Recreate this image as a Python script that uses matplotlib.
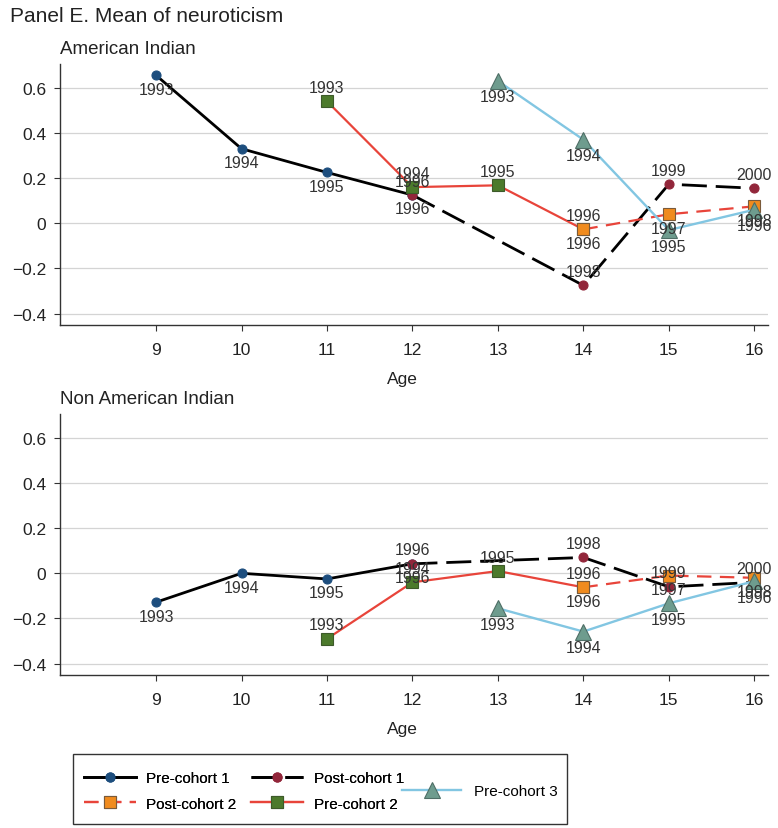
import matplotlib
matplotlib.use("Agg")
import matplotlib.pyplot as plt
from matplotlib.patches import Rectangle

plt.rcParams["font.family"] = ["Liberation Sans", "DejaVu Sans"]

# ---- data: (ages, values, survey years) per series, per panel ----
ai_pre1_age = [9, 10, 11, 12]
ai_pre1_val = [0.655, 0.33, 0.225, 0.125]
ai_pre1_yr = ["1993", "1994", "1995", "1996"]
ai_post1_age = [12, 14, 15, 16]
ai_post1_val = [0.125, -0.275, 0.173, 0.155]
ai_post1_yr = ["1996", "1998", "1999", "2000"]
ai_pre2_age = [11, 12, 13, 14]
ai_pre2_val = [0.54, 0.16, 0.168, -0.027]
ai_pre2_yr = ["1993", "1994", "1995", "1996"]
ai_post2_age = [14, 15, 16]
ai_post2_val = [-0.027, 0.04, 0.075]
ai_post2_yr = ["1996", "1997", "1998"]
ai_pre3_age = [13, 14, 15, 16]
ai_pre3_val = [0.63, 0.37, -0.03, 0.06]
ai_pre3_yr = ["1993", "1994", "1995", "1996"]

nai_pre1_age = [9, 10, 11, 12]
nai_pre1_val = [-0.128, 0.0, -0.025, 0.042]
nai_pre1_yr = ["1993", "1994", "1995", "1996"]
nai_post1_age = [12, 14, 15, 16]
nai_post1_val = [0.042, 0.07, -0.06, -0.04]
nai_post1_yr = ["1996", "1998", "1999", "2000"]
nai_pre2_age = [11, 12, 13, 14]
nai_pre2_val = [-0.29, -0.04, 0.01, -0.062]
nai_pre2_yr = ["1993", "1994", "1995", "1996"]
nai_post2_age = [14, 15, 16]
nai_post2_val = [-0.062, -0.01, -0.02]
nai_post2_yr = ["1996", "1997", "1998"]
nai_pre3_age = [13, 14, 15, 16]
nai_pre3_val = [-0.155, -0.258, -0.133, -0.035]
nai_pre3_yr = ["1993", "1994", "1995", "1996"]

x_ticks = [9, 10, 11, 12, 13, 14, 15, 16]
y_ticks = [-0.4, -0.2, 0, 0.2, 0.4, 0.6]
y_ticklabels = ["\u22120.4", "\u22120.2", "0", "0.2", "0.4", "0.6"]

# series styles; "off" = year label offset in points (+ above, - below)
STYLES = {
    "pre1": dict(label="Pre-cohort 1", color="black", lw=2.0, ls="-", marker="o",
                 ms=6.5, mfc="#1d4e7e", mec="#1d4e7e", off=-10),
    "post1": dict(label="Post-cohort 1", color="black", lw=2.0, ls=(0, (9, 3.2)), marker="o",
                  ms=6.5, mfc="#92263a", mec="#92263a", off=10),
    "pre2": dict(label="Pre-cohort 2", color="#e8443a", lw=1.6, ls="-", marker="s",
                 ms=9, mfc="#4c7a2c", mec="#3d5a2a", off=10),
    "post2": dict(label="Post-cohort 2", color="#e8443a", lw=1.6, ls=(0, (6.5, 3.8)), marker="s",
                  ms=9, mfc="#f08b1e", mec="#7a5a3a", off=-10),
    "pre3": dict(label="Pre-cohort 3", color="#82c6e2", lw=1.7, ls="-", marker="^",
                 ms=11, mfc="#6e9c8e", mec="#4e6e66", off=-11.5),
}


def draw_panel(ax, series, subtitle):
    handles = {}
    for key, (ages, vals, yrs) in series:
        s = STYLES[key]
        h, = ax.plot(ages, vals, color=s["color"], lw=s["lw"], ls=s["ls"], marker=s["marker"],
                     ms=s["ms"], mfc=s["mfc"], mec=s["mec"], mew=0.8, label=s["label"],
                     clip_on=False)
        handles[key] = h
        for a, v, y in zip(ages, vals, yrs):
            ax.annotate(y, (a, v), xytext=(0, s["off"]), textcoords="offset points",
                        ha="center", va="center", fontsize=11.5, color="#333333")
    ax.set_xlim(7.876, 16.16)
    ax.set_ylim(-0.45, 0.705)
    ax.set_xticks(x_ticks)
    ax.set_yticks(y_ticks)
    ax.set_yticklabels(y_ticklabels)
    ax.grid(axis="y", color="#d4d4d4", lw=0.9)
    ax.set_axisbelow(True)
    for sp in ("top", "right"):
        ax.spines[sp].set_visible(False)
    for sp in ("left", "bottom"):
        ax.spines[sp].set_color("#333333")
        ax.spines[sp].set_linewidth(1.0)
    ax.tick_params(axis="x", length=4, pad=8, labelsize=12.5, color="#333333", labelcolor="#222222")
    ax.tick_params(axis="y", length=4, pad=6, labelsize=12.5, color="#333333", labelcolor="#222222")
    ax.set_xlabel("Age", fontsize=12.5, color="#222222")
    ax.xaxis.set_label_coords(0.484, -0.178)
    ax.text(0.0, 1.058, subtitle, transform=ax.transAxes, fontsize=13.5, color="#222222",
            ha="left", va="center")
    return handles


fig = plt.figure(figsize=(7.78, 8.29), dpi=100)
ax1 = fig.add_axes([0.0771, 0.6068, 0.910, 0.3148])
ax2 = fig.add_axes([0.0771, 0.1846, 0.910, 0.3148])

h = draw_panel(ax1, [
    ("pre1", (ai_pre1_age, ai_pre1_val, ai_pre1_yr)),
    ("post1", (ai_post1_age, ai_post1_val, ai_post1_yr)),
    ("pre2", (ai_pre2_age, ai_pre2_val, ai_pre2_yr)),
    ("post2", (ai_post2_age, ai_post2_val, ai_post2_yr)),
    ("pre3", (ai_pre3_age, ai_pre3_val, ai_pre3_yr)),
], "American Indian")
draw_panel(ax2, [
    ("pre1", (nai_pre1_age, nai_pre1_val, nai_pre1_yr)),
    ("post1", (nai_post1_age, nai_post1_val, nai_post1_yr)),
    ("pre2", (nai_pre2_age, nai_pre2_val, nai_pre2_yr)),
    ("post2", (nai_post2_age, nai_post2_val, nai_post2_yr)),
    ("pre3", (nai_pre3_age, nai_pre3_val, nai_pre3_yr)),
], "Non American Indian")

fig.text(10 / 778, 1 - 17 / 829, "Panel E. Mean of neuroticism", fontsize=15,
         color="#222222", ha="left", va="center")

# legend: two rows of two entries, third column holds Pre-cohort 3 centred
leg1 = fig.legend([h["pre1"], h["post2"], h["post1"], h["pre2"]],
                  ["Pre-cohort 1", "Post-cohort 2", "Post-cohort 1", "Pre-cohort 2"],
                  ncol=2, frameon=False, fontsize=11, handlelength=3.4, handletextpad=0.7,
                  columnspacing=0.95, labelspacing=0.75, numpoints=1,
                  loc="center left", bbox_to_anchor=(70 / 778, 1 - 792 / 829))
leg2 = fig.legend([h["pre3"]], ["Pre-cohort 3"], frameon=False, fontsize=11,
                  handlelength=3.9, handletextpad=0.8, numpoints=1,
                  loc="center left", bbox_to_anchor=(388 / 778, 1 - 792 / 829))
fig.add_artist(leg1)
fig.patches.append(Rectangle((73 / 778, 1 - 825 / 829), (567 - 73) / 778, 70 / 829,
                             transform=fig.transFigure, fill=False, ec="#333333", lw=1.0))

fig.savefig("out.png", dpi=100)
